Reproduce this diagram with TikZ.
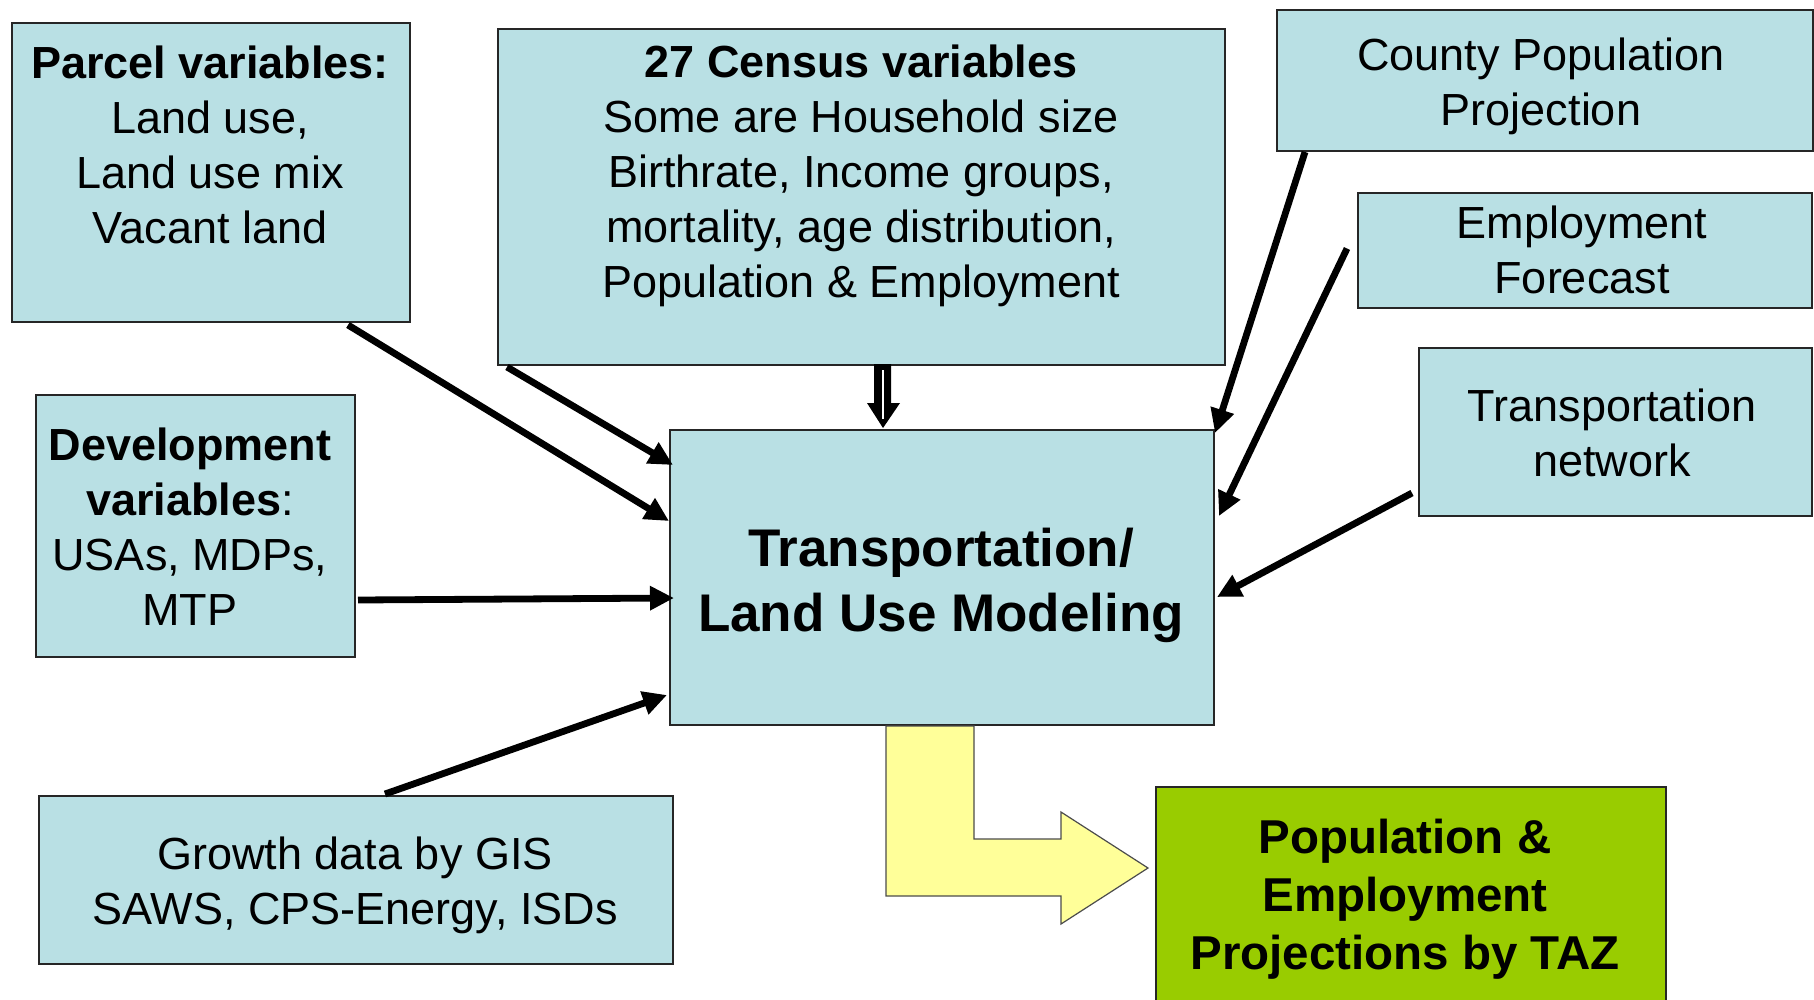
\documentclass[tikz,border=0pt]{standalone}
\usepackage{fontspec}
\setmainfont{Liberation Sans}
\usetikzlibrary{arrows.meta,calc}
\definecolor{boxblue}{RGB}{185,224,228}
\definecolor{tazgreen}{RGB}{153,204,0}
\definecolor{bigyellow}{RGB}{255,255,153}
\tikzset{
  box/.style={draw=black!85, line width=2pt, fill=boxblue, inner sep=0pt, anchor=north west},
  txt/.style={inner sep=0pt, align=center, anchor=north, font=\fontsize{45}{55}\selectfont},
  bigtxt/.style={inner sep=0pt, align=center, anchor=north, font=\fontsize{53}{65}\selectfont\bfseries},
  restxt/.style={inner sep=0pt, align=center, anchor=north, font=\fontsize{47.5}{58}\selectfont\bfseries},
  arr/.style={line width=6.8pt, draw=black, -{Triangle[length=24pt,width=23pt]}},
}
\begin{document}
\begin{tikzpicture}[x=1pt,y=-1pt]
\clip (0,0) rectangle (1814,999);
\fill[white] (0,0) rectangle (1814,999);

% boxes
\node[box, minimum width=398pt, minimum height=299pt] (parcel) at (11,22) {};
\node[box, minimum width=727pt, minimum height=336pt] (census) at (497,28) {};
\node[box, minimum width=536pt, minimum height=141pt] (county) at (1276,9) {};
\node[box, minimum width=454pt, minimum height=115pt] (employ) at (1357,192) {};
\node[box, minimum width=393pt, minimum height=168pt] (tnet) at (1418,347) {};
\node[box, minimum width=319pt, minimum height=262pt] (devel) at (35,394) {};
\node[box, minimum width=544pt, minimum height=295pt] (main) at (669,429) {};
\node[box, minimum width=634pt, minimum height=168pt] (growth) at (38,795) {};
\node[box, fill=tazgreen, minimum width=510pt, minimum height=230pt] (result) at (1155,786) {};

% texts
\node[txt] (parceltxt) at (210,39.5) {\strut\textbf{Parcel variables:}\\Land use,\\Land use mix\\Vacant land\strut};
\node[txt] (censustxt) at (861,39) {\strut\textbf{27 Census variables}\\Some are Household size\\Birthrate, Income groups,\\mortality, age distribution,\\Population \& Employment\strut};
\node[txt] (countytxt) at (1541,31.5) {\strut County Population\\Projection\strut};
\node[txt] (employtxt) at (1582,199.5) {\strut Employment\\Forecast\strut};
\node[txt] (tnettxt) at (1612,382.5) {\strut Transportation\\network\strut};
\node[txt] (develtxt) at (190,421.5) {\strut\textbf{Development}\\\textbf{variables}:\\USAs, MDPs,\\MTP\strut};
\node[txt] (growthtxt) at (355,830.5) {\strut Growth data by GIS\\SAWS, CPS-Energy, ISDs\strut};
\node[bigtxt] (maintxt) at (941,520.5) {\strut Transportation/\\Land Use Modeling\strut};
\node[restxt] (resulttxt) at (1405,812.4) {\strut Population \&\\Employment\\Projections by TAZ\strut};

% connectors into the model box
\draw[arr] ($(parcel.south west)+(337,2)$) -- ($(main.north west)+(0,92)$);
\draw[arr] ($(census.south west)+(10,1)$) -- ($(main.north west)+(4,36)$);
\draw[arr] ($(devel.south east)+(2,-58)$) -- ($(main.north west)+(5,169)$);
\draw[arr] ($(growth.north west)+(347,-1)$) -- ($(main.south west)+(-2,-31)$);
\draw[arr] ($(county.south west)+(29,0)$) -- ($(main.north east)+(0,4)$);
\draw[arr] ($(employ.west)+(-10,-2)$) -- ($(main.north east)+(4,87)$);
\draw[arr] ($(tnet.south west)+(-6,-24)$) -- ($(main.north east)+(2,168)$);

% double arrow from census to model
\fill[black] (874,364) -- (891,364) -- (891,403) -- (900,403) -- (883,428) -- (867,403) -- (874,403) -- cycle;
\draw[white, line width=1.3pt] (883,370) -- (883,419);

% big yellow bent arrow
\filldraw[fill=bigyellow, draw=black!70, line width=1.2pt]
  (886,726) -- (974,726) -- (974,839) -- (1061,839) -- (1061,812) -- (1148,868)
  -- (1061,924) -- (1061,896) -- (886,896) -- cycle;
\end{tikzpicture}
\end{document}
